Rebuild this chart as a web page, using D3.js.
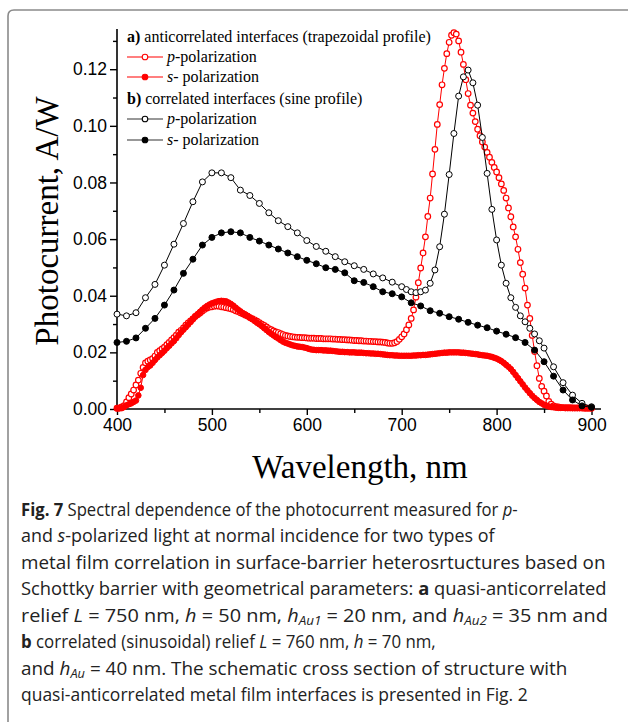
<!DOCTYPE html>
<html><head><meta charset="utf-8">
<script src="https://cdn.jsdelivr.net/npm/d3@7"></script>
<style>html,body{margin:0;padding:0;background:#fff;} svg{display:block;}</style>
</head><body>
<svg id="c" width="628" height="722"></svg>
<script>
// ---------- DATA ----------
const xTicks = [400, 500, 600, 700, 800, 900];
const yTicks = [0.00, 0.02, 0.04, 0.06, 0.08, 0.10, 0.12];
const yTickLabels = ["0.00", "0.02", "0.04", "0.06", "0.08", "0.10", "0.12"];

// a) anticorrelated, 2.5 nm step from 400 to 900
const redStart = 400, redStep = 2.5;
const redP = [
0.0003,0.0004,0.0007,0.0012,0.0025,0.0040,0.0053,0.0067,0.0085,0.0102,
0.0126,0.0147,0.0163,0.0169,0.0173,0.0178,0.0187,0.0200,0.0206,0.0212,
0.0218,0.0227,0.0235,0.0244,0.0252,0.0261,0.0271,0.0278,0.0286,0.0296,
0.0304,0.0311,0.0318,0.0327,0.0333,0.0339,0.0346,0.0352,0.0357,0.0360,
0.0361,0.0363,0.0364,0.0363,0.0361,0.0360,0.0358,0.0356,0.0354,0.0351,
0.0347,0.0344,0.0340,0.0336,0.0332,0.0328,0.0323,0.0319,0.0315,0.0310,
0.0305,0.0300,0.0295,0.0290,0.0284,0.0280,0.0276,0.0272,0.0270,0.0266,
0.0263,0.0260,0.0258,0.0256,0.0255,0.0254,0.0253,0.0253,0.0252,0.0252,
0.0251,0.0250,0.0250,0.0250,0.0249,0.0249,0.0249,0.0248,0.0248,0.0248,
0.0248,0.0247,0.0247,0.0246,0.0246,0.0245,0.0245,0.0244,0.0244,0.0243,
0.0242,0.0242,0.0241,0.0241,0.0240,0.0240,0.0239,0.0239,0.0238,0.0238,
0.0237,0.0237,0.0236,0.0235,0.0233,0.0232,0.0232,0.0234,0.0238,0.0246,
0.0255,0.0265,0.0280,0.0297,0.0320,0.0350,0.0395,0.0446,0.0498,0.0551,
0.0608,0.0680,0.0745,0.0830,0.0917,0.1005,0.1075,0.1145,0.1203,0.1255,
0.1295,0.1320,0.1329,0.1324,0.1300,0.1260,0.1217,0.1163,0.1114,0.1073,
0.1045,0.1015,0.0988,0.0965,0.0943,0.0925,0.0906,0.0889,0.0871,0.0853,
0.0837,0.0817,0.0795,0.0772,0.0745,0.0710,0.0679,0.0643,0.0608,0.0564,
0.0517,0.0476,0.0427,0.0367,0.0320,0.0260,0.0203,0.0153,0.0108,0.0080,
0.0063,0.0046,0.0027,0.0017,0.0011,0.0008,0.0007,0.0006,0.0005,0.0005,
0.0005,0.0005,0.0004,0.0004,0.0004,0.0004,0.0004,0.0003,0.0003,0.0003,
0.0003
];
const redS = [
0.0002,0.0002,0.0003,0.0007,0.0013,0.0017,0.0020,0.0025,0.0030,0.0048,
0.0075,0.0120,0.0138,0.0148,0.0154,0.0163,0.0173,0.0182,0.0190,0.0198,
0.0206,0.0215,0.0223,0.0232,0.0240,0.0250,0.0261,0.0271,0.0280,0.0289,
0.0298,0.0307,0.0319,0.0327,0.0335,0.0343,0.0351,0.0358,0.0364,0.0369,
0.0373,0.0376,0.0379,0.0381,0.0382,0.0381,0.0380,0.0376,0.0371,0.0365,
0.0358,0.0351,0.0345,0.0339,0.0334,0.0329,0.0323,0.0317,0.0311,0.0305,
0.0299,0.0293,0.0286,0.0279,0.0272,0.0266,0.0260,0.0254,0.0249,0.0243,
0.0238,0.0234,0.0231,0.0228,0.0225,0.0223,0.0221,0.0220,0.0219,0.0217,
0.0215,0.0212,0.0210,0.0209,0.0208,0.0208,0.0208,0.0207,0.0207,0.0206,
0.0206,0.0205,0.0204,0.0203,0.0202,0.0202,0.0201,0.0201,0.0200,0.0200,
0.0200,0.0199,0.0199,0.0199,0.0198,0.0197,0.0197,0.0196,0.0196,0.0195,
0.0195,0.0194,0.0193,0.0192,0.0191,0.0190,0.0190,0.0189,0.0189,0.0188,
0.0188,0.0188,0.0188,0.0188,0.0188,0.0189,0.0189,0.0190,0.0190,0.0191,
0.0191,0.0192,0.0193,0.0194,0.0195,0.0196,0.0197,0.0198,0.0199,0.0199,
0.0200,0.0200,0.0200,0.0200,0.0200,0.0199,0.0199,0.0198,0.0197,0.0196,
0.0195,0.0194,0.0193,0.0191,0.0190,0.0189,0.0188,0.0186,0.0184,0.0181,
0.0178,0.0174,0.0169,0.0163,0.0156,0.0149,0.0141,0.0131,0.0120,0.0109,
0.0098,0.0087,0.0076,0.0066,0.0056,0.0047,0.0039,0.0032,0.0025,0.0020,
0.0015,0.0012,0.0009,0.0007,0.0006,0.0005,0.0004,0.0004,0.0004,0.0003,
0.0003,0.0003,0.0003,0.0003,0.0003,0.0003,0.0003,0.0003,0.0003,0.0003,
0.0003
];

// b) correlated (sine profile)
const blackPx = [400,410,420,430,440,450,460,470,480,490,500,510,520,530,540,550,560,570,580,590,600,610,620,630,640,650,660,670,680,690,700,
705,710,715,720,725,730,735,740,745,750,755,760,765,770,775,780,785,790,795,800,805,810,815,820,825,830,835,840,845,850,860,870,880,890,900];
const blackP = [0.0335,0.0329,0.0340,0.0393,0.0440,0.0508,0.0582,0.0655,0.0732,0.0802,0.0834,0.0834,0.0817,0.0773,0.0754,0.0726,0.0693,0.0665,0.0644,0.0622,0.0595,0.0574,0.0557,0.0538,0.0520,0.0506,0.0493,0.0477,0.0463,0.0448,0.0432,
0.0422,0.0414,0.0411,0.0414,0.0420,0.0444,0.0491,0.0573,0.0688,0.0828,0.0973,0.1105,0.1173,0.1197,0.1152,0.1073,0.0959,0.0832,0.0705,0.0597,0.0508,0.0444,0.0393,0.0359,0.0329,0.0308,0.0285,0.0265,0.0241,0.0215,0.0149,0.0093,0.0049,0.0020,0.0008];
const blackSx = [400,410,420,430,440,450,460,470,480,490,500,510,520,530,540,550,560,570,580,590,600,610,620,630,640,650,660,670,680,690,700,710,720,730,740,750,760,770,780,790,800,810,820,830,840,850,860,870,880,890,900];
const blackS = [0.0235,0.0239,0.0251,0.0285,0.0320,0.0367,0.0420,0.0479,0.0529,0.0579,0.0606,0.0622,0.0626,0.0622,0.0606,0.0593,0.0579,0.0565,0.0551,0.0538,0.0525,0.0513,0.0499,0.0493,0.0481,0.0453,0.0447,0.0432,0.0414,0.0407,0.0396,0.0375,0.0364,0.0347,0.0338,0.0326,0.0317,0.0306,0.0296,0.0287,0.0275,0.0264,0.0252,0.0235,0.0208,0.0167,0.0116,0.0067,0.0032,0.0011,0.0006];

const legendItems = [
  {head: "a)", text: " anticorrelated interfaces (trapezoidal profile)"},
  {sym: "open", color: "red", it: "p", text: "-polarization"},
  {sym: "filled", color: "red", it: "s", text: "- polarization"},
  {head: "b)", text: " correlated interfaces (sine profile)"},
  {sym: "open", color: "black", it: "p", text: "-polarization"},
  {sym: "filled", color: "black", it: "s", text: "- polarization"}
];

// ---------- CHART ----------
const svg = d3.select("#c");
const RED = "#ff0000";

// figure frame
svg.append("path")
  .attr("d", "M8,722 L8,16 Q8,10 14,10 L628,10")
  .attr("fill", "none").attr("stroke", "#8a8a8a").attr("stroke-width", 1.6);

const x = d3.scaleLinear().domain([400, 910]).range([117, 601]);
const y = d3.scaleLinear().domain([0, 0.1342]).range([409, 29]);

const g = svg.append("g");

// axes
const xAxis = d3.axisBottom(x).tickValues(xTicks).tickSize(6).tickPadding(4).tickFormat(d3.format("d"));
const xMinor = d3.axisBottom(x).tickValues([450,550,650,750,850]).tickSize(4).tickFormat("");
const yAxis = d3.axisLeft(y).tickValues(yTicks).tickSize(7).tickPadding(3).tickFormat((d,i)=>yTickLabels[i]);
const yMinor = d3.axisLeft(y).tickValues([0.01,0.03,0.05,0.07,0.09,0.11,0.13]).tickSize(4).tickFormat("");

function styleAxis(sel){
  sel.select(".domain").attr("stroke","#000").attr("stroke-width",1.6);
  sel.selectAll(".tick line").attr("stroke","#000").attr("stroke-width",1.4);
  sel.selectAll("text").attr("font-family","'Liberation Sans', Arial, sans-serif").attr("font-size",17.5).attr("fill","#000");
}
const gx = g.append("g").attr("transform","translate(0,409)").call(xAxis);
gx.select(".domain").attr("d","M117,0H601");
styleAxis(gx);
const gxm = g.append("g").attr("transform","translate(0,409)").call(xMinor);
gxm.select(".domain").remove(); styleAxis(gxm);
const gy = g.append("g").attr("transform","translate(117,0)").call(yAxis);
gy.select(".domain").attr("d","M0,409V29");
styleAxis(gy);
const gym = g.append("g").attr("transform","translate(117,0)").call(yMinor);
gym.select(".domain").remove(); styleAxis(gym);

// axis titles
svg.append("text").attr("x", 360).attr("y", 478).attr("text-anchor","middle")
  .attr("font-family","'Liberation Serif','Times New Roman',serif").attr("font-size",33).text("Wavelength, nm");
svg.append("text").attr("transform","translate(58,221) rotate(-90)").attr("text-anchor","middle")
  .attr("font-family","'Liberation Serif','Times New Roman',serif").attr("font-size",33).text("Photocurrent, A/W");

// series
const redPData = redP.map((v,i)=>[redStart + i*redStep, v]);
const redSData = redS.map((v,i)=>[redStart + i*redStep, v]);
const blackPData = blackP.map((v,i)=>[blackPx[i], v]);
const blackSData = blackS.map((v,i)=>[blackSx[i], v]);

const line = d3.line().x(d=>x(d[0])).y(d=>y(d[1]));

function drawSeries(data, color, filled, r, sw){
  const gg = svg.append("g");
  gg.append("path").attr("d", line(data)).attr("fill","none").attr("stroke",color).attr("stroke-width",1);
  gg.selectAll("circle").data(data).join("circle")
    .attr("cx", d=>x(d[0])).attr("cy", d=>y(d[1])).attr("r", r)
    .attr("fill", filled ? color : "#fff").attr("stroke", color).attr("stroke-width", sw);
}
drawSeries(redPData, RED, false, 2.8, 1.2);
drawSeries(redSData, RED, true, 2.8, 1);
drawSeries(blackPData, "#000", false, 3, 1);
drawSeries(blackSData, "#000", true, 3, 1);

// legend
const lg = svg.append("g").attr("font-family","'Liberation Serif','Times New Roman',serif").attr("font-size",16);
const rowsY = [37, 57, 77, 99, 119, 140];
legendItems.forEach((it, i) => {
  const cy = rowsY[i];
  if (it.head) {
    const t = lg.append("text").attr("x",127).attr("y",cy+5);
    t.append("tspan").attr("font-weight","bold").text(it.head);
    t.append("tspan").text(it.text);
  } else {
    const col = it.color === "red" ? RED : "#333";
    lg.append("line").attr("x1",127).attr("x2",163).attr("y1",cy).attr("y2",cy).attr("stroke",col).attr("stroke-width",1.2);
    lg.append("circle").attr("cx",145).attr("cy",cy).attr("r",2.8)
      .attr("fill", it.sym==="filled" ? (it.color==="red"?RED:"#000") : "#fff")
      .attr("stroke", it.color==="red"?RED:"#000").attr("stroke-width",1.1);
    const t = lg.append("text").attr("x",167).attr("y",cy+5);
    t.append("tspan").attr("font-style","italic").text(it.it);
    t.append("tspan").text(it.text);
  }
});

// caption
const capFont = "'Open Sans','Noto Sans',sans-serif";
const capLines = [
  [["b","Fig. 7"],["n"," Spectral dependence of the photocurrent measured for "],["i","p"],["n","-"]],
  [["n","and "],["i","s"],["n","-polarized light at normal incidence for two types of"]],
  [["n","metal film correlation in surface-barrier heterosrtuctures based on"]],
  [["n","Schottky barrier with geometrical parameters: "],["b","a"],["n"," quasi-anticorrelated"]],
  [["n","relief "],["i","L"],["n"," = 750 nm, "],["i","h"],["n"," = 50 nm, "],["i","h"],["sub","Au1"],["n"," = 20 nm, and "],["i","h"],["sub","Au2"],["n"," = 35 nm and"]],
  [["b","b"],["n"," correlated (sinusoidal) relief "],["i","L"],["n"," = 760 nm, "],["i","h"],["n"," = 70 nm,"]],
  [["n","and "],["i","h"],["sub","Au"],["n"," = 40 nm. The schematic cross section of structure with"]],
  [["n","quasi-anticorrelated metal film interfaces is presented in Fig. 2"]]
];
const capBase = [516, 542, 569, 595, 622, 648, 675, 701];
const capWidth = [497, 474, 585, 586, 587, 415, 547, 507];
const capG = svg.append("g").attr("font-family", capFont).attr("font-size", 18.5).attr("fill","#222");
capLines.forEach((parts, i) => {
  const t = capG.append("text").attr("x", 0).attr("y", 0);
  let prevSub = false;
  parts.forEach(p => {
    const ts = t.append("tspan");
    if (p[0]==="b") ts.attr("font-weight","bold");
    if (p[0]==="i") ts.attr("font-style","italic");
    if (p[0]==="sub") { ts.attr("font-style","italic").attr("font-size",12.5).attr("dy",3); }
    else if (prevSub) ts.attr("dy",-3);
    prevSub = p[0]==="sub";
    ts.text(p[1]);
  });
  const w = t.node().getComputedTextLength();
  t.attr("transform", `translate(21,${capBase[i]}) scale(${capWidth[i]/w},1)`);
});
</script>
</body></html>
